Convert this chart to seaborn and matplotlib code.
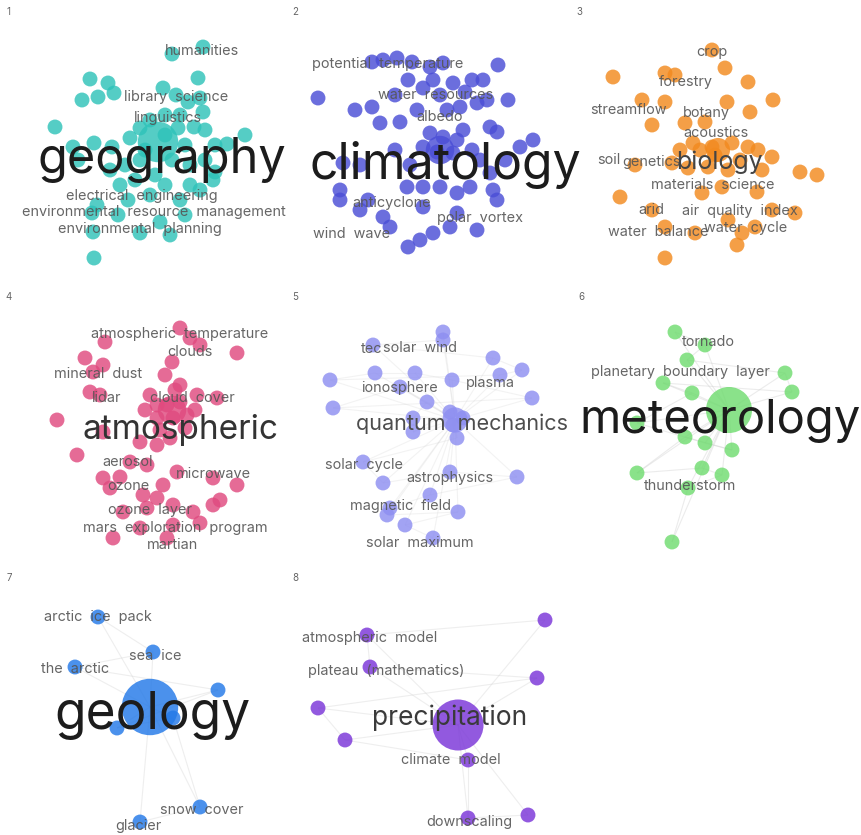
import numpy as np
import pandas as pd
import matplotlib
matplotlib.use("Agg")
import matplotlib.pyplot as plt
from matplotlib.collections import LineCollection
import seaborn as sns

sns.set_style("white")
plt.rcParams["font.family"] = ["Inter", "DejaVu Sans"]

# ---- cluster 1: geography ----
geo_x = [203, 172, 198, 90, 108, 82, 98, 114, 163, 176, 188, 200, 203, 194, 55, 245, 227, 73, 94, 112,
         130, 140, 150, 165, 178, 185, 172, 140, 125, 205, 215, 213, 200, 180, 165, 150, 128, 97, 92, 118,
         160, 140, 93, 185, 170, 94, 110, 190, 78, 145, 165, 180, 190, 155, 135, 120, 205, 215]
geo_y = [47, 54, 78, 79, 83, 100, 97, 93, 88, 95, 102, 98, 112, 127, 127, 135, 144, 147, 143, 147,
         138, 128, 120, 115, 128, 145, 160, 160, 165, 160, 172, 180, 190, 200, 185, 195, 200, 205, 213, 215,
         222, 233, 232, 215, 235, 258, 170, 165, 160, 150, 135, 115, 185, 175, 180, 185, 130, 145]
geo_hub = (158, 142)

# ---- cluster 2: climatology ----
cli_x = [498, 318, 372, 383, 397, 412, 430, 443, 408, 423, 433, 453, 472, 483, 372, 380, 400, 417, 447, 460,
         477, 487, 508, 490, 497, 520, 533, 430, 443, 457, 463, 423, 437, 453, 472, 343, 340, 340, 368, 360,
         383, 390, 407, 423, 440, 457, 470, 493, 497, 423, 457, 433, 420, 408, 450, 477, 490, 360, 395, 410,
         480, 505, 395, 440, 465, 355]
cli_y = [65, 98, 62, 60, 58, 62, 67, 63, 80, 88, 80, 83, 80, 80, 107, 123, 122, 110, 110, 107,
         103, 100, 100, 127, 132, 147, 140, 133, 137, 140, 130, 147, 152, 153, 150, 163, 190, 200, 200, 210,
         217, 227, 187, 187, 187, 193, 187, 190, 200, 207, 213, 233, 240, 247, 227, 230, 173, 165, 150, 165,
         160, 160, 95, 95, 92, 110]
cli_hub = (440, 150)

# ---- cluster 3: biology ----
bio_x = [712, 613, 725, 748, 665, 675, 773, 750, 642, 665, 727, 652, 685, 705, 693, 712, 732, 748, 758, 772,
         635, 672, 688, 708, 728, 762, 800, 817, 620, 702, 722, 757, 652, 665, 695, 728, 742, 755, 737, 772,
         795, 665, 715, 740, 700, 680]
bio_y = [50, 77, 68, 82, 73, 75, 100, 112, 100, 102, 102, 125, 123, 122, 143, 147, 143, 147, 150, 157,
         165, 163, 168, 167, 170, 170, 172, 175, 197, 193, 187, 192, 210, 227, 233, 220, 233, 227, 245, 210,
         213, 258, 155, 160, 150, 150]
bio_hub = (718, 150)

# ---- cluster 4: atmospheric ----
atm_x = [180, 190, 200, 105, 237, 85, 103, 93, 172, 90, 100, 180, 217, 157, 167, 180, 187, 173, 157, 197,
         57, 103, 77, 140, 157, 170, 130, 147, 103, 120, 110, 163, 177, 213, 237, 143, 157, 173, 123, 147,
         193, 213, 220, 140, 173, 200, 113, 167, 160, 185, 165, 175, 150, 195, 145]
atm_y = [328, 338, 345, 342, 353, 358, 365, 372, 362, 392, 395, 385, 398, 405, 405, 402, 415, 418, 418, 395,
         420, 432, 455, 442, 445, 438, 462, 465, 478, 477, 488, 485, 472, 478, 485, 495, 498, 505, 512, 508,
         512, 505, 500, 528, 525, 523, 538, 538, 430, 428, 375, 390, 395, 410, 410]
atm_hub = (172, 410)

# ---- cluster 5: quantum mechanics ----
qm_x = [443, 443, 373, 493, 522, 500, 330, 375, 415, 452, 532, 333, 400, 427, 413, 413, 450, 463, 453, 457,
        363, 383, 450, 517, 430, 390, 387, 458, 405, 433]
qm_y = [332, 340, 345, 358, 370, 375, 380, 373, 373, 380, 398, 408, 387, 402, 418, 432, 412, 418, 425, 438,
        462, 483, 472, 477, 495, 508, 515, 512, 525, 538]
qm_hub = (455, 420)

# ---- cluster 6: meteorology ----
met_x = [675, 705, 687, 785, 792, 663, 692, 637, 705, 732, 685, 637, 702, 722, 688, 672]
met_y = [332, 345, 360, 373, 392, 383, 393, 423, 443, 450, 437, 473, 468, 475, 488, 542]
met_hub = (729, 410)

# ---- cluster 7: geology ----
gel_x = [98, 153, 75, 218, 117, 173, 200, 140]
gel_y = [617, 652, 667, 690, 728, 718, 807, 822]
gel_hub = (150, 707)

# ---- cluster 8: precipitation ----
pre_x = [545, 367, 370, 537, 318, 345, 468, 468, 528]
pre_y = [620, 635, 667, 678, 708, 740, 760, 818, 815]
pre_hub = (458, 725)

clusters = [
    ("1", "#2fc3b9", geo_x, geo_y, geo_hub, 850),
    ("2", "#4a4ed6", cli_x, cli_y, cli_hub, 420),
    ("3", "#f28a1f", bio_x, bio_y, bio_hub, 300),
    ("4", "#e04a7f", atm_x, atm_y, atm_hub, 420),
    ("5", "#8e8ff1", qm_x, qm_y, qm_hub, 330),
    ("6", "#70dc70", met_x, met_y, met_hub, 1100),
    ("7", "#2379e8", gel_x, gel_y, gel_hub, 1650),
    ("8", "#7a35d8", pre_x, pre_y, pre_hub, 1350),
]

# hub term and the other labelled terms of each cluster
hub_terms = ["geography", "climatology", "biology", "atmospheric",
             "quantum  mechanics", "meteorology", "geology", "precipitation"]
hub_term_xy = [(162, 160), (445, 165), (719, 162), (181, 430), (462, 424), (720, 421), (152, 716), (450, 718)]
hub_term_pt = [35, 36, 18, 24, 15.5, 34, 37, 19]
hub_term_col = ["#1c1c1c", "#1c1c1c", "#444444", "#333333", "#4d4d4d", "#1c1c1c", "#1c1c1c", "#3a3a3a"]

terms = [
    ("humanities", 202, 51), ("library  science", 176, 97), ("linguistics", 168, 118),
    ("electrical  engineering", 142, 196), ("environmental  resource  management", 154, 212),
    ("environmental  planning", 140, 229),
    ("potential  temperature", 388, 64), ("water  resources", 436, 95), ("albedo", 440, 117),
    ("anticyclone", 392, 203), ("polar  vortex", 480, 218), ("wind  wave", 352, 234),
    ("crop", 712, 52), ("forestry", 686, 82), ("streamflow", 628, 110), ("botany", 706, 113),
    ("acoustics", 716, 133), ("soil", 609, 160), ("genetics", 652, 162),
    ("materials  science", 713, 185), ("arid", 651, 210), ("air  quality  index", 740, 211),
    ("water  balance", 658, 232), ("water  cycle", 746, 228),
    ("atmospheric  temperature", 180, 334), ("clouds", 190, 352), ("mineral  dust", 98, 374),
    ("lidar", 107, 398), ("cloud  cover", 192, 398), ("aerosol", 128, 462), ("microwave", 213, 474),
    ("ozone", 128, 486), ("ozone  layer", 150, 510), ("mars  exploration  program", 175, 528),
    ("martian", 173, 545),
    ("tec", 372, 349), ("solar  wind", 420, 348), ("ionosphere", 400, 388), ("plasma", 490, 383),
    ("solar  cycle", 364, 465), ("astrophysics", 450, 478), ("magnetic  field", 401, 506),
    ("solar  maximum", 420, 543),
    ("tornado", 708, 342), ("planetary  boundary  layer", 680, 372), ("thunderstorm", 690, 486),
    ("arctic  ice  pack", 98, 617), ("sea  ice", 155, 656), ("the  arctic", 75, 669),
    ("snow  cover", 202, 810), ("glacier", 138, 826),
    ("atmospheric  model", 370, 638), ("plateau  (mathematics)", 386, 671),
    ("climate  model", 451, 760), ("downscaling", 469, 822),
]

fig = plt.figure(figsize=(8.62, 8.35), dpi=100)
ax = fig.add_axes([0, 0, 1, 1])
ax.set_xlim(0, 862)
ax.set_ylim(835, 0)
ax.set_axis_off()

# faint links for the sparse clusters
link_alpha = {"5": 0.25, "6": 0.4, "7": 0.35, "8": 0.35}
for key, color, xs, ys, hub, hub_s in clusters:
    if key in link_alpha:
        segs = [[hub, (x, y)] for x, y in zip(xs, ys)]
        pts = list(zip(xs, ys))
        for i in range(len(pts) - 1):
            segs.append([pts[i], pts[i + 1]])
        lc = LineCollection(segs, colors="#cfcfcf", linewidths=0.8, alpha=link_alpha[key], zorder=1)
        ax.add_collection(lc)

for key, color, xs, ys, hub, hub_s in clusters:
    df = pd.DataFrame({"x": list(xs) + [hub[0]], "y": list(ys) + [hub[1]],
                       "s": [115] * len(xs) + [hub_s]})
    sns.scatterplot(data=df, x="x", y="y", s=df["s"].values, color=color, alpha=0.82,
                    linewidth=0, ax=ax, zorder=2, legend=False)

for name, (tx, ty), pt, col in zip(hub_terms, hub_term_xy, hub_term_pt, hub_term_col):
    ax.text(tx, ty, name, fontsize=pt, color=col, ha="center", va="center", zorder=4)

for name, tx, ty in terms:
    ax.text(tx, ty, name, fontsize=10.4, color="#555555", alpha=0.9, ha="center", va="center", zorder=3)

panel_corner = [(9, 12), (295, 12), (579, 12), (9, 297), (295, 297), (581, 297), (9, 578), (295, 578)]
for (key, *_), (px, py) in zip(clusters, panel_corner):
    ax.text(px, py, key, fontsize=7, color="#666666", ha="center", va="center")

ax.set_xlabel("")
ax.set_ylabel("")
fig.savefig("out.png", dpi=100)
